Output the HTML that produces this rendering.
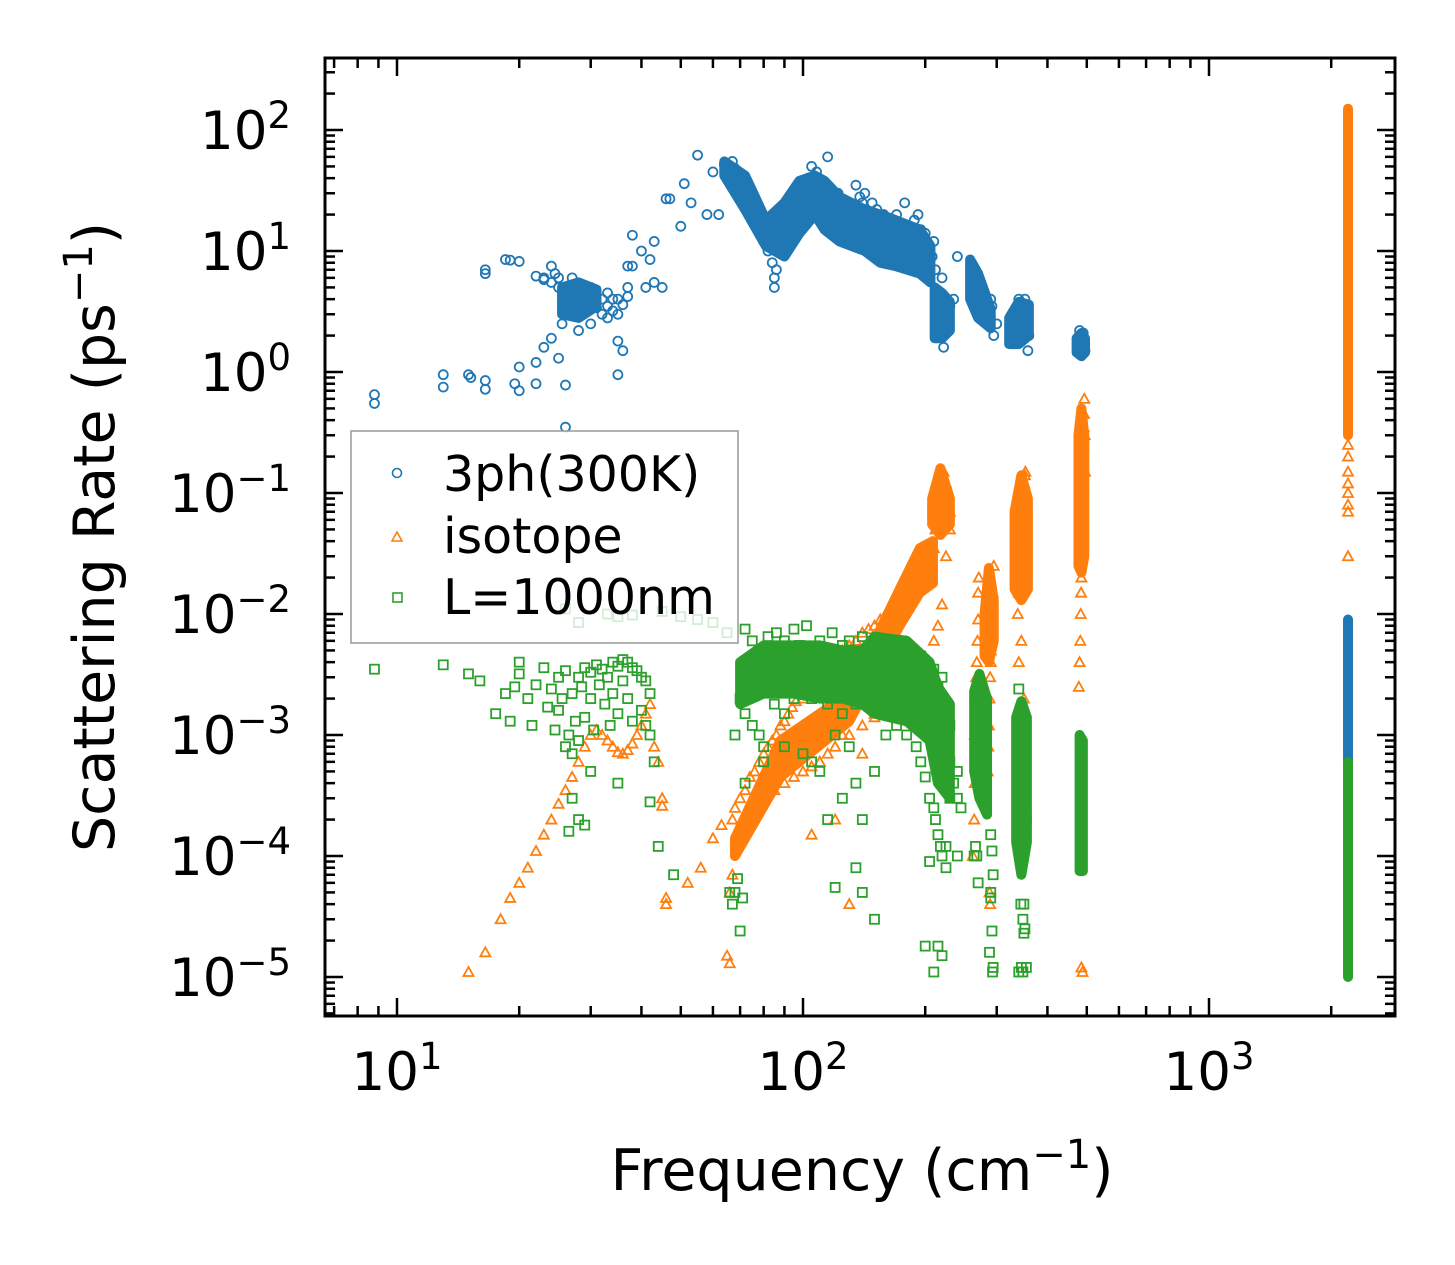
<!DOCTYPE html>
<html><head><meta charset="utf-8"><style>
html,body{margin:0;padding:0;background:#fff;}
svg{display:block;font-family:"DejaVu Sans","Liberation Sans",sans-serif;}
</style></head><body>
<svg id="chart" width="1455" height="1265" viewBox="0 0 1455 1265" xmlns="http://www.w3.org/2000/svg">
<rect width="1455" height="1265" fill="#fff"/>
<g id="marks"></g>
<g id="axes"></g>
<text x="862" y="1190" font-size="57" text-anchor="middle">Frequency (cm<tspan dy="-22" font-size="40">−1</tspan><tspan dy="22">)</tspan></text>
<text transform="translate(114,537) rotate(-90)" font-size="57" text-anchor="middle">Scattering Rate (ps<tspan dy="-22" font-size="40">−1</tspan><tspan dy="22">)</tspan></text>
<g>
<rect x="351" y="431" width="387" height="212" fill="#fff" fill-opacity="0.8" stroke="#999" stroke-width="1.5"/>
<g>
<circle cx="397" cy="473" r="4.5" fill="none" stroke="#1f77b4" stroke-width="1.6"/>
<text x="443" y="491" font-size="49">3ph(300K)</text></g>
<g>
<path d="M397,532 L402,541 L392,541 Z" fill="none" stroke="#ff7f0e" stroke-width="1.6"/>
<text x="443" y="553" font-size="49">isotope</text></g>
<g>
<rect x="393" y="593" width="9" height="9" fill="none" stroke="#2ca02c" stroke-width="1.6"/>
<text x="443" y="614" font-size="49">L=1000nm</text></g>
</g>
</svg>
<script>
// ---- data: individual points ----
const threePhFreq = [8.8,8.8,13,13,15,15.2,16.5,16.5,16.5,16.5,18.5,19,20,20,19.5,20,22,22,23,24,24,25,25,25.5,26,26,26,27,27,28,28,28,29,29,30,30,31,32,33,33,34,35,35,35,36,37,37,38,38,40,41,42,43,43,45,46,47,50,51,53,55,58,60,62,64,66,67,68,69,70,71,72,73,74,75,76,77,78,80,82,84,85,85,86,88,90,92,94,95,96,98,100,101,102,103,104,105,106,108,110,112,115,118,120,122,125,128,130,133,135,138,140,142,145,148,150,152,155,158,160,162,165,168,170,172,175,178,180,182,185,188,190,192,195,198,200,203,205,208,210,212,213,215,216,218,220,222,225,228,230,235,240,263,265,266,268,270,272,275,278,280,285,288,290,292,295,300,330,335,338,340,342,345,348,350,352,355,358,360,478,480,482,485,488,490,492,495,23,24,24.5,25,32,33,34,35,36,37,22,23];
const threePhRate = [0.65,0.55,0.95,0.75,0.95,0.9,0.85,0.72,6.5,7,8.5,8.4,8.2,1.1,0.8,0.7,0.8,1.2,1.6,1.9,7.5,6,1.3,2.5,3,0.78,0.35,4,6,5,3.5,2.2,3.8,4.5,2.5,5,3.4,4,2.8,4.5,3.2,4,1.8,0.95,1.5,5,7.5,7.5,13.5,10,5,8.5,12,5.5,5,27,27,16,36,25,62,20,45,20,52,50,55,48,42,40,38,35,30,25,28,18,22,15,12,10,8,5,6,7,10,15,20,18,25,28,30,35,30,28,40,32,50,38,45,30,35,60,20,25,30,18,22,15,20,35,28,25,30,20,25,18,22,15,20,12,18,10,15,20,12,15,25,10,14,8,18,12,20,15,10,14,8,11,9,12,7,3,2.5,4,2,6,1.6,3,2.5,3.5,4,9,7,6,5,4,6,5,3,4,3.5,2.7,3,4,3.5,2,2.5,3,1.8,2.2,4,3,2.6,3.5,2.2,4,2.5,1.5,2,1.8,2.2,1.6,1.4,1.9,2.1,1.7,1.5,6,5.5,6.5,5,3,3.5,4,3,3.6,4.2,6.2,5.8];
const isoFreq = [15,16.5,18,19,20,21,22,23,24,25,26,27,28,29,30,31,32,33,34,35,36,37,38,39,40,41,42,43,44,45,45,46,46,52,56,60,63,65,66,66,67,67,68,70,72,74,76,78,80,82,84,86,88,90,92,94,96,98,100,105,110,115,120,125,130,135,140,145,150,155,160,165,170,175,180,185,190,195,200,205,210,212,215,218,220,222,225,228,230,72,76,80,85,90,95,100,105,110,115,120,130,140,150,160,170,180,190,200,210,100,105,110,120,125,130,140,150,160,180,200,210,215,220,225,230,262,264,265,265,266,267,268,269,270,270,271,285,286,287,288,289,290,290,291,292,293,295,288,289,338,340,342,343,344,345,346,347,348,349,350,352,353,355,340,345,350,352,478,480,482,483,484,485,486,487,488,489,490,490,491,492,493,494,495,485,488,2200,2200,2200,2200,2200,2200,2200,2200];
const isoRate = [1.1e-5,1.6e-5,3e-5,4.5e-5,6e-5,8e-5,1.1e-4,1.5e-4,2e-4,2.7e-4,3.5e-4,4.5e-4,6e-4,8e-4,1e-3,1.1e-3,1e-3,9e-4,8e-4,7.2e-4,7e-4,7.5e-4,8.5e-4,1e-3,1.2e-3,1.5e-3,1.8e-3,8e-4,6e-4,3e-4,2.6e-4,4.5e-5,4e-5,6e-5,8e-5,1.4e-4,1.8e-4,1.5e-5,5e-5,1.3e-5,2e-4,7e-5,2.5e-4,3e-4,3.5e-4,4.5e-4,5e-4,6e-4,7e-4,8e-4,9e-4,1e-3,1.2e-3,1.3e-3,1.5e-3,1.7e-3,1.9e-3,2.2e-3,2.5e-3,3e-3,3.5e-3,4e-3,4.5e-3,5e-3,5.5e-3,6e-3,7e-3,7.5e-3,8e-3,9e-3,1e-2,1.1e-2,1.2e-2,1.3e-2,1.5e-2,1.7e-2,2e-2,2.2e-2,2.5e-2,3e-2,3.5e-2,5e-2,7e-2,0.1,0.13,0.15,0.12,0.09,0.07,2e-4,2.5e-4,3e-4,3.5e-4,4e-4,4.5e-4,5e-4,5.5e-4,6e-4,7e-4,8e-4,1e-3,1.2e-3,1.4e-3,1.6e-3,1.8e-3,2e-3,1.5e-3,1.2e-3,1e-3,2e-3,1.5e-4,6e-4,2e-4,1e-3,4e-5,7e-4,1.5e-3,2.5e-3,3e-3,4e-3,6e-3,8e-3,0.012,0.03,0.05,1e-4,2e-4,4e-4,1e-3,2e-3,3e-3,4e-3,6e-3,9e-3,0.015,0.02,5e-4,8e-4,1.2e-3,2e-3,3e-3,4e-3,5e-3,7e-3,0.01,0.015,0.025,5e-5,4e-5,0.01,0.015,0.02,0.03,0.04,0.05,0.06,0.07,0.08,0.1,0.12,0.14,0.15,0.09,4e-3,6e-3,2e-3,1.5e-3,0.0025,0.004,0.006,0.01,0.015,0.02,0.03,0.05,0.08,0.12,0.18,0.25,0.35,0.45,0.6,0.3,0.15,1.2e-5,1.1e-5,0.03,0.07,0.1,0.2,0.15,0.25,0.12,0.08];
const bndFreq = [8.8,13,15,16,17.5,18.5,19,19.5,20,20,21,21.5,22,23,23.5,24,24.5,25,25,25.5,26,26,26.5,27,27,27.5,28,28,28.5,29,29,30,30,30.5,31,31.5,32,32.5,33,33.5,34,34,35,35,36,36,37,37,38,38,39,40,40,41,41,42,42,43,26,28,33,35,38,45,50,55,60,65,27,30,35,28,26.5,29,42,44,48,66,67,68,69,70,71,72,73,74,75,76,78,80,82,84,86,88,90,92,95,98,100,102,105,108,110,112,115,118,120,125,130,135,140,145,150,155,160,165,170,175,180,185,190,195,200,205,210,215,220,225,230,68,70,72,75,78,80,85,90,95,100,105,110,115,120,125,130,135,140,150,160,170,180,190,200,210,220,230,240,72,80,90,100,105,110,120,125,130,135,140,150,160,170,180,190,195,200,205,210,212,215,218,220,225,230,235,240,245,115,120,135,140,150,200,205,210,215,220,225,240,264,266,268,270,290,292,294,288,290,292,294,290,293,340,344,348,350,352,355,345,348,350,352,355,340,344,485,487,489,490];
const bndRate = [3.5e-3,3.8e-3,3.2e-3,2.8e-3,1.5e-3,2.2e-3,1.3e-3,2.5e-3,4e-3,3.2e-3,2e-3,1.2e-3,2.6e-3,3.6e-3,1.7e-3,2.4e-3,1.1e-3,3e-3,1.6e-3,2e-3,8e-4,3.4e-3,1e-3,2.2e-3,7e-4,1.3e-3,3e-3,9e-4,2.5e-3,3.6e-3,1.4e-3,3.3e-3,2e-3,1.1e-3,3.8e-3,2.6e-3,3.5e-3,1.8e-3,3e-3,1.2e-3,4e-3,2.2e-3,3.7e-3,1.5e-3,4.2e-3,2.8e-3,4e-3,2e-3,3.6e-3,1.3e-3,3.4e-3,3e-3,1.6e-3,2.8e-3,1.2e-3,2.2e-3,1e-3,6e-4,1.1e-2,8.5e-3,1e-2,9.5e-3,9.8e-3,1.05e-2,9.5e-3,9e-3,8.5e-3,7e-3,3e-4,5e-4,4e-4,2e-4,1.6e-4,1.8e-4,2.8e-4,1.2e-4,7e-5,5e-5,4e-5,5e-5,6.5e-5,2.4e-5,4.5e-5,7.5e-3,3e-3,4e-3,6e-3,4.5e-3,3.5e-3,5e-3,6.5e-3,4e-3,7e-3,5e-3,6e-3,4e-3,7.5e-3,5.5e-3,4.5e-3,8e-3,3.5e-3,5e-3,6e-3,4e-3,3e-3,7e-3,5e-3,5.5e-3,6e-3,4.5e-3,6.5e-3,5e-3,4e-3,6e-3,5.5e-3,4.5e-3,5e-3,6e-3,4e-3,5e-3,3.5e-3,4.5e-3,4e-3,3e-3,3.5e-3,2.5e-3,3e-3,1.5e-3,1.2e-3,1e-3,2e-3,1.5e-3,1.2e-3,1e-3,8e-4,1.8e-3,1.5e-3,2e-3,2.5e-3,2e-3,2.2e-3,1.8e-3,2.5e-3,1.5e-3,2e-3,1.8e-3,2.5e-3,3e-3,2.8e-3,2.5e-3,2.2e-3,2e-3,1.5e-3,1e-3,8e-4,6e-4,5e-4,4e-4,6e-4,8e-4,7e-4,6e-4,5e-4,1e-3,3e-4,8e-4,4e-4,2e-4,5e-4,1e-3,1.2e-3,1e-3,8e-4,6e-4,4.5e-4,3e-4,2.5e-4,2e-4,1.5e-4,1.2e-4,1e-4,8e-5,3e-4,4e-4,3e-4,2.5e-4,2e-4,5.5e-5,8e-5,5e-5,3e-5,1.8e-5,9e-5,1.1e-5,1.8e-5,1.5e-5,1.2e-4,1e-4,1e-4,1.2e-4,1e-4,6e-5,4.5e-5,2.4e-5,1.2e-5,1.6e-5,1.5e-4,1.1e-4,7e-5,5e-5,1.1e-5,2.4e-3,4e-5,3e-5,2.3e-5,3e-4,2e-4,1.2e-5,1.1e-5,4e-5,2.5e-5,1.2e-5,1.1e-5];

// ---- data: dense clusters (overlapping markers), freq with lower/upper rate envelope ----
const band3phBlobFreq = [25.5,28,31];
const band3phBlobLow  = [3,2.8,3.5];
const band3phBlobHigh = [5,5.5,4.8];
const band3phRidgeFreq = [64,72,81,90,98,107,113,123,142,155,169,194,206];
const band3phRidgeLow  = [42,22,11,9,14,20,15,12,10,8,7.5,6.5,5.5];
const band3phRidgeHigh = [55,42,18,25,38,42,38,28,22,20,18,15,11];
const band3ph210Freq = [211,220,230];
const band3ph210Low  = [1.9,1.9,2.2];
const band3ph210High = [5,4.5,3.8];
const band3ph270Freq = [258,270,290];
const band3ph270Low  = [4,2.8,2.3];
const band3ph270High = [8.5,6.5,3.3];
const band3ph345Freq = [322,340,360];
const band3ph345Low  = [1.7,1.7,2];
const band3ph345High = [2.8,3.8,3.6];
const band3ph485Freq = [472,485,495];
const band3ph485Low  = [1.45,1.35,1.45];
const band3ph485High = [1.9,2.1,1.9];
const band3ph2200Freq = [2200,2200];
const band3ph2200Low  = [6e-4,6e-4];
const band3ph2200High = [0.009,0.009];

const bandIsoRampFreq = [68,88,130,173,194,209];
const bandIsoRampLow  = [1e-4,4.5e-4,1.3e-3,8e-3,0.015,0.018];
const bandIsoRampHigh = [1.4e-4,9e-4,2.2e-3,0.016,0.035,0.04];
const bandIso220Freq = [208,218,230];
const bandIso220Low  = [0.055,0.045,0.055];
const bandIso220High = [0.09,0.16,0.09];
const bandIso290Freq = [280,287,295];
const bandIso290Low  = [4.5e-3,4e-3,6e-3];
const bandIso290High = [0.01,0.024,0.013];
const bandIso345Freq = [332,345,358];
const bandIso345Low  = [0.016,0.013,0.016];
const bandIso345High = [0.07,0.14,0.09];
const bandIso485Freq = [477,485,493];
const bandIso485Low  = [0.025,0.022,0.03];
const bandIso485High = [0.3,0.5,0.3];
const bandIso2200Freq = [2200,2200];
const bandIso2200Low  = [0.3,0.3];
const bandIso2200High = [150,150];

const bandBnd85Freq = [70,80,95,110,125,140];
const bandBnd85Low  = [1.8e-3,2.2e-3,2.2e-3,2e-3,2e-3,1.8e-3];
const bandBnd85High = [4e-3,5.5e-3,5.5e-3,5.5e-3,5e-3,5e-3];
const bandBnd170Freq = [140,150,180,205,215,230];
const bandBnd170Low  = [1.8e-3,1.5e-3,1.3e-3,9e-4,4e-4,3e-4];
const bandBnd170High = [5e-3,6.5e-3,6e-3,4e-3,2.5e-3,1.8e-3];
const bandBnd270Freq = [264,272,284];
const bandBnd270Low  = [5e-4,3e-4,2.2e-4];
const bandBnd270High = [2.3e-3,3.2e-3,2e-3];
const bandBnd345Freq = [335,345,356];
const bandBnd345Low  = [1.3e-4,7e-5,1.3e-4];
const bandBnd345High = [1.4e-3,1.9e-3,1.4e-3];
const bandBnd485Freq = [480,489];
const bandBnd485Low  = [7.5e-5,7.5e-5];
const bandBnd485High = [1e-3,9e-4];
const bandBnd2200Freq = [2200,2200];
const bandBnd2200Low  = [1e-5,1e-5];
const bandBnd2200High = [6e-4,6e-4];

const xTickLabels = ["10","10","10"];
const xTickExps = ["1","2","3"];
const yTickExps = ["2","1","0","−1","−2","−3","−4","−5"];

// ---- axes ----
const L=325,R=1395,T=58,B=1016;
const xs = f => 397 + 406*(Math.log10(f)-1);
const ys = v => 130 + 121*(2-Math.log10(v));
const NS="http://www.w3.org/2000/svg";
function mk(tag, attrs, parent){const e=document.createElementNS(NS,tag);for(const k in attrs)e.setAttribute(k,attrs[k]);parent.appendChild(e);return e;}
const marks=document.getElementById('marks');
const clip=mk('clipPath',{id:'pc'},marks); mk('rect',{x:L,y:T,width:R-L,height:B-T},clip);
function band(g,fr,lo,hi,col){
  let d='';
  fr.forEach((f,i)=>{d+=(i?'L':'M')+xs(f)+','+ys(hi[i]);});
  for(let i=fr.length-1;i>=0;i--){d+='L'+xs(fr[i])+','+ys(lo[i]);}
  const p=mk('path',{d:d+'Z',fill:col,stroke:col,'stroke-width':10,'stroke-linejoin':'round'},g);
  
  
}
const gB=mk('g',{'clip-path':'url(#pc)'},marks);


threePhFreq.forEach((f,i)=>{const c=mk('circle',{cx:xs(f),cy:ys(threePhRate[i]),r:4.5,fill:'none',stroke:'#1f77b4','stroke-width':1.8},gB);

});
const cB='#1f77b4';
band(gB,band3phBlobFreq,band3phBlobLow,band3phBlobHigh,cB);
band(gB,band3phRidgeFreq,band3phRidgeLow,band3phRidgeHigh,cB);
band(gB,band3ph210Freq,band3ph210Low,band3ph210High,cB);
band(gB,band3ph270Freq,band3ph270Low,band3ph270High,cB);
band(gB,band3ph345Freq,band3ph345Low,band3ph345High,cB);
band(gB,band3ph485Freq,band3ph485Low,band3ph485High,cB);
band(gB,band3ph2200Freq,band3ph2200Low,band3ph2200High,cB);

const gO=mk('g',{'clip-path':'url(#pc)'},marks);


const cO='#ff7f0e';
band(gO,bandIsoRampFreq,bandIsoRampLow,bandIsoRampHigh,cO);
band(gO,bandIso220Freq,bandIso220Low,bandIso220High,cO);
band(gO,bandIso290Freq,bandIso290Low,bandIso290High,cO);
band(gO,bandIso345Freq,bandIso345Low,bandIso345High,cO);
band(gO,bandIso485Freq,bandIso485Low,bandIso485High,cO);
band(gO,bandIso2200Freq,bandIso2200Low,bandIso2200High,cO);
isoFreq.forEach((f,i)=>{const x=xs(f),y=ys(isoRate[i]);const p=mk('path',{d:`M${x},${y-5} L${x+5},${y+4} L${x-5},${y+4} Z`,fill:'none',stroke:cO,'stroke-width':1.8},gO);

});

const gG=mk('g',{'clip-path':'url(#pc)'},marks);


const cG='#2ca02c';
band(gG,bandBnd85Freq,bandBnd85Low,bandBnd85High,cG);
band(gG,bandBnd170Freq,bandBnd170Low,bandBnd170High,cG);
band(gG,bandBnd270Freq,bandBnd270Low,bandBnd270High,cG);
band(gG,bandBnd345Freq,bandBnd345Low,bandBnd345High,cG);
band(gG,bandBnd485Freq,bandBnd485Low,bandBnd485High,cG);
band(gG,bandBnd2200Freq,bandBnd2200Low,bandBnd2200High,cG);
bndFreq.forEach((f,i)=>{const x=xs(f),y=ys(bndRate[i]);const r=mk('rect',{x:x-4.5,y:y-4.5,width:9,height:9,fill:'none',stroke:cG,'stroke-width':1.8},gG);

});

const ax=document.getElementById('axes');
mk('rect',{x:L,y:T,width:R-L,height:B-T,fill:'none',stroke:'#000','stroke-width':3},ax);
for(let d=0;d<=3;d++){for(let m=1;m<=9;m++){const f=m*Math.pow(10,d);const x=xs(f);if(x<L||x>R)continue;const len=m===1?18:10;
 mk('line',{x1:x,y1:B,x2:x,y2:B-len,stroke:'#000','stroke-width':2.5},ax);
 mk('line',{x1:x,y1:T,x2:x,y2:T+len,stroke:'#000','stroke-width':2.5},ax);}}
xTickExps.forEach((e,i)=>{const x=xs(Math.pow(10,i+1));const t=mk('text',{x:x,y:1090,'font-size':53,'text-anchor':'middle'},ax);


t.innerHTML=`${xTickLabels[i]}<tspan dy="-21" font-size="37">${e}</tspan>`;});
for(let d=-6;d<=2;d++){for(let m=1;m<=9;m++){const v=m*Math.pow(10,d);const y=ys(v);if(y<T||y>B)continue;const len=m===1?18:10;
 mk('line',{x1:L,y1:y,x2:L+len,y2:y,stroke:'#000','stroke-width':2.5},ax);
 mk('line',{x1:R,y1:y,x2:R-len,y2:y,stroke:'#000','stroke-width':2.5},ax);}}
yTickExps.forEach((e,i)=>{const y=ys(Math.pow(10,2-i));const t=mk('text',{x:291,y:y+19,'font-size':53,'text-anchor':'end'},ax);


t.innerHTML=`10<tspan dy="-21" font-size="37">${e}</tspan>`;});
</script>
</body></html>
